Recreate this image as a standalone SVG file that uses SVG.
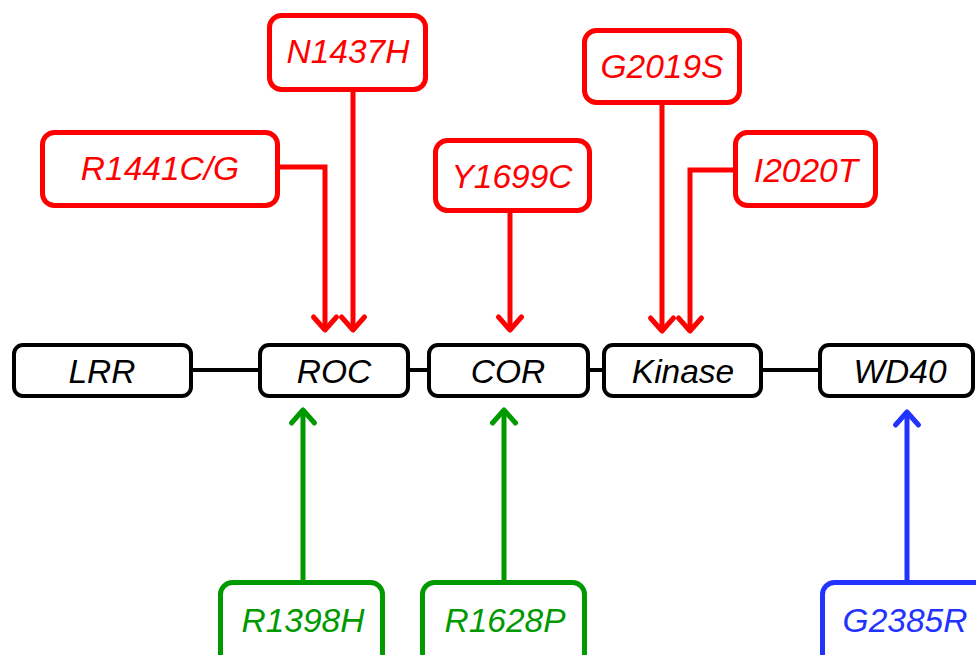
<svg xmlns="http://www.w3.org/2000/svg" width="976" height="655" viewBox="0 0 976 655">
<style>
  text { font-family: "Liberation Sans", Arial, sans-serif; font-style: italic; font-size: 33.5px; text-anchor: middle; }
  .dom rect { fill: #fff; stroke: #000; stroke-width: 4; }
  .dom text { fill: #000; }
  .red rect { fill: #fff; stroke: #FF0000; stroke-width: 5; }
  .red text { fill: #FF0000; }
  .green rect { fill: #fff; stroke: #009900; stroke-width: 5; }
  .green text { fill: #009900; }
  .blue rect { fill: #fff; stroke: #2233FF; stroke-width: 5; }
  .blue text { fill: #2233FF; }
  .link { fill: none; stroke: #000; stroke-width: 4; }
  .c { fill: none; stroke-width: 5; }
  .c-red { stroke: #FF0000; }
  .c-green { stroke: #009900; }
  .c-blue { stroke: #2233FF; }
</style>
<defs>
  <marker id="ar" markerUnits="userSpaceOnUse" markerWidth="30" markerHeight="30" refX="0" refY="0" orient="auto" overflow="visible">
    <path d="M-13,-11.5 L0,0 L-13,11.5" fill="none" stroke="#FF0000" stroke-width="5" stroke-linecap="round" stroke-linejoin="round"/>
  </marker>
  <marker id="ag" markerUnits="userSpaceOnUse" markerWidth="30" markerHeight="30" refX="0" refY="0" orient="auto" overflow="visible">
    <path d="M-13,-11.5 L0,0 L-13,11.5" fill="none" stroke="#009900" stroke-width="5" stroke-linecap="round" stroke-linejoin="round"/>
  </marker>
  <marker id="ab" markerUnits="userSpaceOnUse" markerWidth="30" markerHeight="30" refX="0" refY="0" orient="auto" overflow="visible">
    <path d="M-13,-11.5 L0,0 L-13,11.5" fill="none" stroke="#2233FF" stroke-width="5" stroke-linecap="round" stroke-linejoin="round"/>
  </marker>
</defs>

<g id="connectors">
  <path class="link" d="M193,370 H258"/>
  <path class="link" d="M410,370 H427"/>
  <path class="link" d="M590,370 H602"/>
  <path class="link" d="M763,370 H818"/>
  <path class="c c-red" d="M280,167 H325 V330" marker-end="url(#ar)"/>
  <path class="c c-red" d="M353,92 V330" marker-end="url(#ar)"/>
  <path class="c c-red" d="M510,213 V330" marker-end="url(#ar)"/>
  <path class="c c-red" d="M662,105 V331" marker-end="url(#ar)"/>
  <path class="c c-red" d="M733,170 H690 V331" marker-end="url(#ar)"/>
  <path class="c c-green" d="M303,580 V410" marker-end="url(#ag)"/>
  <path class="c c-green" d="M504,580 V410" marker-end="url(#ag)"/>
  <path class="c c-blue" d="M907,580 V412" marker-end="url(#ab)"/>
</g>

<g id="LRR" class="dom"><rect x="14" y="345" width="177" height="51" rx="9"/><text x="102" y="383">LRR</text></g>
<g id="ROC" class="dom"><rect x="260" y="345" width="148" height="51" rx="9"/><text x="334" y="383">ROC</text></g>
<g id="COR" class="dom"><rect x="429" y="345" width="159" height="51" rx="9"/><text x="508" y="383">COR</text></g>
<g id="Kinase" class="dom"><rect x="604" y="345" width="157" height="51" rx="9"/><text x="683" y="383">Kinase</text></g>
<g id="WD40" class="dom"><rect x="820" y="345" width="153" height="51" rx="9"/><text x="900" y="383">WD40</text></g>

<g id="N1437H" class="red"><rect x="269.5" y="15.5" width="156" height="74" rx="12"/><text x="348" y="63">N1437H</text></g>
<g id="R1441CG" class="red"><rect x="42.5" y="132.5" width="235" height="73" rx="12"/><text x="160" y="180">R1441C/G</text></g>
<g id="Y1699C" class="red"><rect x="435.5" y="140.5" width="154" height="70" rx="12"/><text x="512" y="188">Y1699C</text></g>
<g id="G2019S" class="red"><rect x="584.5" y="30.5" width="155" height="72" rx="12"/><text x="662" y="78">G2019S</text></g>
<g id="I2020T" class="red"><rect x="735.5" y="132.5" width="140" height="73" rx="12"/><text x="806" y="182">I2020T</text></g>

<g id="R1398H" class="green"><rect x="220.5" y="582.5" width="162" height="85" rx="12"/><text x="303" y="632">R1398H</text></g>
<g id="R1628P" class="green"><rect x="422.5" y="582.5" width="162" height="85" rx="12"/><text x="505" y="632">R1628P</text></g>
<g id="G2385R" class="blue"><rect x="822.5" y="582.5" width="175" height="85" rx="12"/><text x="905" y="632">G2385R</text></g>
</svg>
